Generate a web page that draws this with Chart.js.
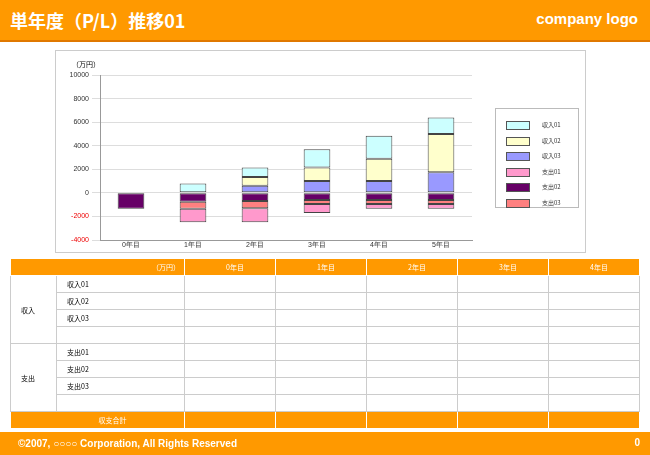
<!DOCTYPE html>
<html><head><meta charset="utf-8">
<script src="https://cdn.jsdelivr.net/npm/chart.js@4/dist/chart.umd.min.js"></script>
<style>
body{margin:0;width:650px;height:455px;position:relative;background:#fff;font-family:"Noto Sans CJK JP","Noto Sans",sans-serif;overflow:hidden}
.hdr{position:absolute;left:0;top:0;width:650px;height:40px;background:#f90;border-bottom:2px solid #e07800}
.hdr .t{position:absolute;left:10px;top:7px;color:#fff;font-weight:bold;font-size:18px}
.hdr .l{position:absolute;right:12px;top:10px;color:#fff;font-weight:bold;font-size:15px;font-family:"Liberation Sans",sans-serif}
.ftr{position:absolute;left:0;top:432px;width:650px;height:23px;background:#f90;color:#fff;font-weight:bold;font-size:10px;font-family:"Liberation Sans","Noto Sans CJK JP",sans-serif}
.box{position:absolute;left:55px;top:50px;width:529px;height:201px;border:1px solid #ccc}
#c{position:absolute;left:55px;top:50px}
.unit{position:absolute;left:72px;top:59px;font-size:7px}
#lg{position:absolute;left:495px;top:108px;width:82px;height:98px;border:1px solid #bbb;font-size:6px;color:#333}
#lg div{position:absolute;left:10px;width:70px;height:8px;white-space:nowrap}
#lg span.b{position:absolute;left:0;top:0;width:22px;height:7px;border:1px solid #555}
#lg span.x{position:absolute;left:36px;top:-1px}
table{position:absolute;left:10px;top:258px;width:630px;border-collapse:collapse;font-size:7px}
td{border:1px solid #ccc;padding:0 0 0 10px;height:16px}
.o td{background:#f90;color:#fff;text-align:center;border-color:#fff}
</style></head><body>
<div class="hdr"><span class="t">単年度（P/L）推移01</span><span class="l">company logo</span></div>
<div class="box"></div>
<canvas id="c" width="530" height="210"></canvas>
<div class="unit">（万円）</div>
<div id="lg"></div>
<table>
<tr class="o" style="height:17px"><td colspan="2" style="text-align:right;padding-right:4px;width:166px">（万円）</td><td style="width:80px">0年目</td><td style="width:80px">1年目</td><td style="width:80px">2年目</td><td style="width:80px">3年目</td><td style="width:80px">4年目</td></tr>
<tr><td rowspan="4" style="width:35px">収入</td><td>収入01</td><td></td><td></td><td></td><td></td><td></td></tr>
<tr><td>収入02</td><td></td><td></td><td></td><td></td><td></td></tr>
<tr><td>収入03</td><td></td><td></td><td></td><td></td><td></td></tr>
<tr><td></td><td></td><td></td><td></td><td></td><td></td></tr>
<tr><td rowspan="4">支出</td><td>支出01</td><td></td><td></td><td></td><td></td><td></td></tr>
<tr><td>支出02</td><td></td><td></td><td></td><td></td><td></td></tr>
<tr><td>支出03</td><td></td><td></td><td></td><td></td><td></td></tr>
<tr><td></td><td></td><td></td><td></td><td></td><td></td></tr>
<tr class="o"><td colspan="2" style="text-align:center;padding-left:30px">収支合計</td><td></td><td></td><td></td><td></td><td></td></tr>
</table>
<div class="ftr"><span style="position:absolute;left:18px;top:6px">©2007, ○○○○ Corporation, All Rights Reserved</span><span style="position:absolute;right:10px;top:5px">0</span></div>
<script>
const categories=["0年目","1年目","2年目","3年目","4年目","5年目"];
const income01=[0,800,800,1550,1950,1400];
const income02=[0,0,750,1150,1900,3250];
const income03=[0,0,600,1000,1000,1750];
const expense01=[0,-1150,-1200,-750,-400,-400];
const expense02=[-1350,-750,-700,-600,-600,-600];
const expense03=[0,-600,-600,-350,-350,-350];
const legendOrder=["収入01","収入02","収入03","支出01","支出02","支出03"];
const mk=(label,data,bg)=>({label,data,backgroundColor:bg,borderColor:"#444",borderWidth:c=>c.raw?1:0,borderSkipped:false,stack:"s",barPercentage:0.43,categoryPercentage:1});
const ds=[mk("収入03",income03,"#9999ff"),mk("収入02",income02,"#ffffcc"),mk("収入01",income01,"#ccffff"),
mk("支出02",expense02,"#660066"),mk("支出03",expense03,"#ff8080"),mk("支出01",expense01,"#ff99cc")];
const lg=document.getElementById("lg");
legendOrder.forEach((n,i)=>{const d=ds.find(x=>x.label===n);const e=document.createElement("div");e.style.top=(12+i*15.5)+"px";
e.innerHTML=`<span class="b" style="background:${d.backgroundColor}"></span><span class="x">${n}</span>`;lg.appendChild(e);});
new Chart(document.getElementById("c"),{type:"bar",
data:{labels:categories,datasets:ds},
options:{responsive:false,animation:false,devicePixelRatio:1,
layout:{padding:{left:0,top:25,right:113,bottom:8}},
plugins:{tooltip:{enabled:false},legend:{display:false}},
scales:{x:{stacked:true,grid:{display:false},border:{color:"#999"},afterFit:s=>{s.height=12},ticks:{font:{size:7},color:"#333",padding:-7}},
y:{stacked:true,min:-4000,max:10000,afterFit:s=>{s.width=45},ticks:{stepSize:2000,callback:v=>String(v),font:{size:7},color:c=>c.tick.value<0?"#e00":"#333"},grid:{color:"#ddd"},border:{color:"#999"}}}}
});
</script>
</body></html>
